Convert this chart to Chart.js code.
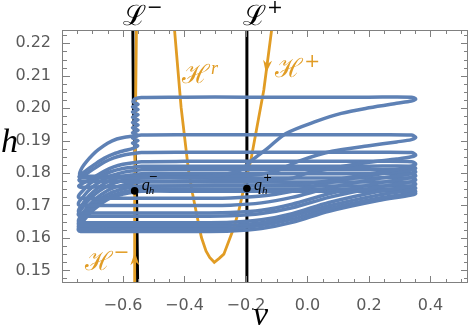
<!DOCTYPE html>
<html>
<head>
<meta charset="utf-8">
<script src="https://cdn.jsdelivr.net/npm/chart.js@4.4.0/dist/chart.umd.min.js"></script>
<style>
  body { margin: 0; background: #fff; }
  canvas { display: block; }
</style>
</head>
<body>
<canvas id="phaseChart" width="472" height="327"></canvas>
<script>
// tick labels
const xTickVals = [-0.6, -0.4, -0.2, 0.0, 0.2, 0.4];
const yTickVals = [0.15, 0.16, 0.17, 0.18, 0.19, 0.20, 0.21, 0.22];

// blue trajectory as [v, h] pairs, loop by loop
const loop1 = [[-0.35, 0.1786], [-0.28, 0.1794], [-0.22, 0.1808], [-0.18, 0.1840], [-0.13, 0.1876], [-0.07, 0.1922], [0.03, 0.1960], [0.11, 0.1984], [0.20, 0.2001], [0.29, 0.2015], [0.338, 0.2022], [0.352, 0.2028], [0.338, 0.2034], [0.20, 0.2034], [0.0, 0.2034], [-0.2, 0.2034], [-0.4, 0.2034], [-0.54, 0.2033], [-0.562, 0.2028],
  [-0.567, 0.2020], [-0.551, 0.2012], [-0.569, 0.2004], [-0.551, 0.1996], [-0.569, 0.1988], [-0.551, 0.1980], [-0.569, 0.1972], [-0.551, 0.1964], [-0.569, 0.1956], [-0.551, 0.1948], [-0.569, 0.1940], [-0.551, 0.1932], [-0.569, 0.1924], [-0.551, 0.1916], [-0.569, 0.1908], [-0.551, 0.1900], [-0.569, 0.1892], [-0.552, 0.1884], [-0.567, 0.1876],
  [-0.60, 0.1868], [-0.63, 0.1859], [-0.66, 0.1846], [-0.69, 0.1828], [-0.715, 0.1811], [-0.735, 0.1797], [-0.743, 0.1789], [-0.738, 0.1785], [-0.70, 0.1785], [-0.60, 0.1785], [-0.45, 0.1786], [-0.35, 0.1786]];
const loop2 = [[-0.30, 0.1791], [-0.20, 0.1792], [-0.15, 0.1796], [-0.10, 0.1807], [-0.03, 0.1836], [0.08, 0.1867], [0.20, 0.1884], [0.29, 0.1896], [0.338, 0.1903], [0.352, 0.1910], [0.338, 0.1917], [0.2, 0.1918], [0.0, 0.1918], [-0.2, 0.1918], [-0.4, 0.1918], [-0.54, 0.1917], [-0.566, 0.1914], [-0.59, 0.1911], [-0.62, 0.1905], [-0.65, 0.1892], [-0.68, 0.1872], [-0.70, 0.1855], [-0.72, 0.1834], [-0.733, 0.1817], [-0.740, 0.1802], [-0.741, 0.1794], [-0.733, 0.1790], [-0.70, 0.1790], [-0.60, 0.1790], [-0.45, 0.1791], [-0.30, 0.1791]];
const loop3 = [[-0.30, 0.1776], [-0.15, 0.1777], [-0.05, 0.1784], [0.0, 0.1800], [0.08, 0.1815], [0.20, 0.1833], [0.29, 0.1843], [0.338, 0.1850], [0.352, 0.1856], [0.338, 0.1863], [0.2, 0.1864], [0.0, 0.1864], [-0.2, 0.1864], [-0.4, 0.1864], [-0.54, 0.1863], [-0.566, 0.1860], [-0.60, 0.1855], [-0.63, 0.1847], [-0.66, 0.1834], [-0.69, 0.1816], [-0.715, 0.1800], [-0.735, 0.1787], [-0.743, 0.1779], [-0.738, 0.1774], [-0.70, 0.1774], [-0.60, 0.1775], [-0.45, 0.1775], [-0.30, 0.1776]];
const loop4 = [[-0.30, 0.1762], [-0.10, 0.1763], [0.0, 0.1768], [0.08, 0.1778], [0.20, 0.1797], [0.29, 0.1811], [0.338, 0.1821], [0.352, 0.1828], [0.338, 0.1835], [0.2, 0.1836], [0.0, 0.1836], [-0.2, 0.1836], [-0.4, 0.1836], [-0.54, 0.1835], [-0.566, 0.1832], [-0.60, 0.1827], [-0.63, 0.1819], [-0.66, 0.1806], [-0.69, 0.1789], [-0.715, 0.1776], [-0.735, 0.1766], [-0.744, 0.1760], [-0.738, 0.1756], [-0.70, 0.1757], [-0.60, 0.1758], [-0.45, 0.1760], [-0.30, 0.1762]];
const loop5 = [[-0.35, 0.1722], [-0.25, 0.1723], [-0.15, 0.1729], [-0.05, 0.1744], [0.07, 0.1770], [0.23, 0.1796], [0.338, 0.1809], [0.352, 0.1815], [0.338, 0.1821], [0.2, 0.1821], [0.0, 0.1821], [-0.2, 0.1821], [-0.4, 0.1821], [-0.54, 0.1821], [-0.566, 0.1818], [-0.60, 0.1814], [-0.64, 0.1804], [-0.68, 0.1785], [-0.71, 0.1766], [-0.73, 0.1746], [-0.743, 0.1732], [-0.745, 0.1725], [-0.738, 0.1722], [-0.65, 0.1722], [-0.5, 0.1722], [-0.35, 0.1722]];
const loop6 = [[-0.35, 0.1700], [-0.25, 0.1701], [-0.15, 0.1708], [-0.05, 0.1725], [0.07, 0.1754], [0.23, 0.1783], [0.338, 0.1798], [0.352, 0.1804], [0.338, 0.1810], [0.2, 0.1810], [0.0, 0.1810], [-0.2, 0.1810], [-0.4, 0.1810], [-0.54, 0.1810], [-0.566, 0.1807], [-0.60, 0.1802], [-0.64, 0.1791], [-0.68, 0.1770], [-0.71, 0.1748], [-0.73, 0.1726], [-0.743, 0.1711], [-0.745, 0.1703], [-0.738, 0.1700], [-0.65, 0.1700], [-0.5, 0.1700], [-0.35, 0.1700]];
const loop7 = [[-0.35, 0.1677], [-0.25, 0.1678], [-0.15, 0.1685], [-0.05, 0.1704], [0.07, 0.1736], [0.23, 0.1769], [0.338, 0.1786], [0.352, 0.1792], [0.338, 0.1798], [0.2, 0.1798], [0.0, 0.1798], [-0.2, 0.1798], [-0.4, 0.1798], [-0.54, 0.1798], [-0.566, 0.1795], [-0.60, 0.1790], [-0.64, 0.1778], [-0.68, 0.1755], [-0.71, 0.1730], [-0.73, 0.1706], [-0.743, 0.1689], [-0.745, 0.1681], [-0.738, 0.1677], [-0.65, 0.1677], [-0.5, 0.1677], [-0.35, 0.1677]];
const loop8 = [[-0.35, 0.1667], [-0.25, 0.1668], [-0.15, 0.1675], [-0.05, 0.1693], [0.07, 0.1725], [0.23, 0.1757], [0.338, 0.1773], [0.352, 0.1779], [0.338, 0.1785], [0.2, 0.1785], [0.0, 0.1785], [-0.2, 0.1785], [-0.4, 0.1785], [-0.54, 0.1785], [-0.566, 0.1782], [-0.60, 0.1777], [-0.64, 0.1765], [-0.68, 0.1743], [-0.71, 0.1718], [-0.73, 0.1695], [-0.743, 0.1679], [-0.745, 0.1671], [-0.738, 0.1667], [-0.65, 0.1667], [-0.5, 0.1667], [-0.35, 0.1667]];
const loop9 = [[-0.35, 0.1647], [-0.25, 0.1648], [-0.15, 0.1656], [-0.05, 0.1675], [0.07, 0.1709], [0.23, 0.1743], [0.338, 0.1760], [0.352, 0.1766], [0.338, 0.1772], [0.2, 0.1772], [0.0, 0.1772], [-0.2, 0.1772], [-0.4, 0.1772], [-0.54, 0.1772], [-0.566, 0.1769], [-0.60, 0.1763], [-0.64, 0.1751], [-0.68, 0.1727], [-0.71, 0.1702], [-0.73, 0.1677], [-0.743, 0.1659], [-0.745, 0.1651], [-0.738, 0.1647], [-0.65, 0.1647], [-0.5, 0.1647], [-0.35, 0.1647]];
const loop10 = [[-0.35, 0.1638], [-0.25, 0.1639], [-0.15, 0.1647], [-0.05, 0.1666], [0.07, 0.1699], [0.23, 0.1732], [0.338, 0.1748], [0.352, 0.1754], [0.338, 0.1760], [0.2, 0.1760], [0.0, 0.1760], [-0.2, 0.1760], [-0.4, 0.1760], [-0.54, 0.1760], [-0.566, 0.1757], [-0.60, 0.1751], [-0.64, 0.1739], [-0.68, 0.1716], [-0.71, 0.1692], [-0.73, 0.1667], [-0.743, 0.1650], [-0.745, 0.1642], [-0.738, 0.1638], [-0.65, 0.1638], [-0.5, 0.1638], [-0.35, 0.1638]];
const loop11 = [[-0.35, 0.1629], [-0.25, 0.1630], [-0.15, 0.1638], [-0.05, 0.1657], [0.07, 0.1690], [0.23, 0.1722], [0.338, 0.1738], [0.352, 0.1744], [0.338, 0.1750], [0.2, 0.1750], [0.0, 0.1750], [-0.2, 0.1750], [-0.4, 0.1750], [-0.54, 0.1750], [-0.566, 0.1747], [-0.60, 0.1741], [-0.64, 0.1729], [-0.68, 0.1706], [-0.71, 0.1682], [-0.73, 0.1658], [-0.743, 0.1641], [-0.745, 0.1633], [-0.738, 0.1629], [-0.65, 0.1629], [-0.5, 0.1629], [-0.35, 0.1629]];
const loop12 = [[-0.35, 0.1620], [-0.25, 0.1621], [-0.15, 0.1629], [-0.05, 0.1648], [0.07, 0.1682], [0.23, 0.1715], [0.338, 0.1732], [0.352, 0.1738], [0.338, 0.1744], [0.2, 0.1744], [0.0, 0.1744], [-0.2, 0.1744], [-0.4, 0.1744], [-0.54, 0.1744], [-0.566, 0.1741], [-0.60, 0.1735], [-0.64, 0.1723], [-0.68, 0.1699], [-0.71, 0.1674], [-0.73, 0.1650], [-0.743, 0.1633], [-0.745, 0.1624], [-0.738, 0.1620], [-0.65, 0.1620], [-0.5, 0.1620], [-0.35, 0.1620]];
const blueLoops = [loop1, loop2, loop3, loop4, loop5, loop6, loop7, loop8, loop9, loop10, loop11, loop12];

// orange curves: H^r running down into H^+, and H^- along L^-
const hCurve = [[-0.434, 0.2260], [-0.411, 0.2003], [-0.387, 0.1809], [-0.374, 0.1738], [-0.361, 0.1676], [-0.345, 0.1602], [-0.330, 0.1560], [-0.318, 0.1540], [-0.303, 0.1525], [-0.287, 0.1537], [-0.272, 0.1550], [-0.256, 0.1590], [-0.240, 0.1630], [-0.223, 0.1685], [-0.201, 0.1778], [-0.184, 0.1840], [-0.142, 0.2056], [-0.114, 0.2260]];
const hMinus = [[-0.561, 0.1440], [-0.562, 0.1745], [-0.556, 0.2260]];

// black lines L^- and L^+
const lMinus = [[-0.568, 0.2260], [-0.566, 0.2000], [-0.556, 0.1750], [-0.552, 0.1440]];
const lPlus = [[-0.197, 0.2260], [-0.197, 0.1440]];

// the points q_h^- and q_h^+
const qPoints = [[-0.562, 0.1745], [-0.197, 0.1752]];

const BLUE = 'rgb(94,129,181)';
const ORANGE = 'rgb(225,156,36)';
const FRAME = '#808080';
const LABEL = '#5a5a5a';

function toXY(arr) {
    return arr.map(p => ({ x: p[0], y: p[1] }));
}

function fmtX(v) {
    return (v < 0 ? '\u2212' : '') + Math.abs(v).toFixed(1);
}

function drawArrow(ctx, tip, from) {
    const ang = Math.atan2(tip[1] - from[1], tip[0] - from[0]);
    ctx.save();
    ctx.translate(tip[0], tip[1]);
    ctx.rotate(ang);
    ctx.beginPath();
    ctx.moveTo(0, 0);
    ctx.lineTo(-13, -4.5);
    ctx.lineTo(-9, 0);
    ctx.lineTo(-13, 4.5);
    ctx.closePath();
    ctx.fill();
    ctx.restore();
}

// a letter with a superscript right after it
function supText(ctx, base, sup, x, y, baseFont, supFont, rise) {
    ctx.font = baseFont;
    ctx.fillText(base, x, y);
    const w = ctx.measureText(base).width;
    ctx.font = supFont;
    ctx.fillText(sup, x + w + 1, y - rise);
}

const decorations = {
    id: 'decorations',
    afterDatasetsDraw(chart) {
        const { ctx, chartArea: a, scales } = chart;
        const sx = scales.x, sy = scales.y;
        const px = v => sx.getPixelForValue(v);
        const py = h => sy.getPixelForValue(h);
        ctx.save();

        // frame and inward ticks
        ctx.strokeStyle = FRAME;
        ctx.lineWidth = 1;
        ctx.strokeRect(a.left - 0.5, a.top + 0.5, a.right - a.left, a.bottom - a.top - 1);
        ctx.beginPath();
        for (let i = -16; i <= 10; i++) {
            const v = i * 0.05;
            if (v < sx.min || v > sx.max) continue;
            const len = (i % 4 === 0) ? 7 : 4;
            const x = Math.round(px(v)) + 0.5;
            ctx.moveTo(x, a.bottom); ctx.lineTo(x, a.bottom - len);
            ctx.moveTo(x, a.top); ctx.lineTo(x, a.top + len);
        }
        for (let i = 0; i <= 40; i++) {
            const h = 0.145 + i * 0.0025;
            if (h < sy.min || h > sy.max) continue;
            const len = (i % 4 === 2) ? 7 : 4;
            const y = Math.round(py(h)) + 0.5;
            ctx.moveTo(a.left, y); ctx.lineTo(a.left + len, y);
            ctx.moveTo(a.right, y); ctx.lineTo(a.right - len, y);
        }
        ctx.stroke();

        // arrowheads on the orange curves
        ctx.fillStyle = ORANGE;
        drawArrow(ctx, [px(-0.135), py(0.2108)], [px(-0.117), py(0.2241)]);
        drawArrow(ctx, [px(-0.5615), py(0.1556)], [px(-0.561), py(0.1461)]);

        // curve labels
        ctx.textBaseline = 'alphabetic';
        ctx.textAlign = 'left';
        ctx.fillStyle = '#000';
        supText(ctx, '\u2112', '\u2212', px(-0.565) - 11, a.top - 5, '28px "DejaVu Serif"', '19px "DejaVu Serif"', 12);
        supText(ctx, '\u2112', '+', px(-0.197) - 4, a.top - 5, '28px "DejaVu Serif"', '19px "DejaVu Serif"', 12);

        ctx.fillStyle = ORANGE;
        supText(ctx, '\u210B', 'r', px(-0.408), py(0.2077), '26px "DejaVu Serif"', 'italic 18px "Liberation Serif"', 9);
        supText(ctx, '\u210B', '+', px(-0.105), py(0.2096), '26px "DejaVu Serif"', '19px "DejaVu Serif"', 10);
        supText(ctx, '\u210B', '\u2212', px(-0.725), py(0.1500), '26px "DejaVu Serif"', '19px "DejaVu Serif"', 12);

        // q_h labels
        ctx.fillStyle = '#000';
        ctx.font = 'italic 16px "Liberation Serif"';
        ctx.fillText('q', px(-0.562) + 7, py(0.1745) - 1);
        ctx.fillText('q', px(-0.197) + 7, py(0.1752) + 1);
        ctx.font = 'italic 11px "Liberation Serif"';
        ctx.fillText('h', px(-0.562) + 14, py(0.1745) + 3);
        ctx.fillText('h', px(-0.197) + 15, py(0.1752) + 5);
        ctx.font = '11px "DejaVu Sans"';
        ctx.fillText('\u2212', px(-0.562) + 14, py(0.1745) - 11);
        ctx.fillText('+', px(-0.197) + 16, py(0.1752) - 8);

        // axis titles
        ctx.font = 'italic 34px "Liberation Serif"';
        ctx.fillText('h', 1, 152);
        ctx.textAlign = 'center';
        ctx.fillText('v', (a.left + a.right) / 2 - 5, 325);
        ctx.restore();
    }
};

const datasets = [];
datasets.push({
    data: toXY(qPoints), showLine: false, pointRadius: 3.8, pointBorderWidth: 0,
    pointBackgroundColor: '#000', order: 0
});
blueLoops.forEach(loop => {
    datasets.push({
        data: toXY(loop), showLine: true, borderColor: BLUE, borderWidth: 3.5,
        pointRadius: 0, tension: 0.3, borderJoinStyle: 'round', borderCapStyle: 'round', order: 1
    });
});
[hCurve, hMinus].forEach(c => {
    datasets.push({
        data: toXY(c), showLine: true, borderColor: ORANGE, borderWidth: 2.8,
        pointRadius: 0, tension: 0, order: 2
    });
});
[lMinus, lPlus].forEach(c => {
    datasets.push({
        data: toXY(c), showLine: true, borderColor: '#000', borderWidth: 3,
        pointRadius: 0, tension: 0, order: 3
    });
});

new Chart(document.getElementById('phaseChart'), {
    type: 'scatter',
    data: { datasets: datasets },
    options: {
        responsive: false,
        animation: false,
        devicePixelRatio: 1,
        layout: { padding: { left: 0, right: 1, top: 30, bottom: 0 } },
        plugins: { legend: { display: false }, tooltip: { enabled: false } },
        scales: {
            x: {
                type: 'linear', min: -0.795, max: 0.522,
                grid: { display: false }, border: { display: false },
                afterBuildTicks: s => { s.ticks = xTickVals.map(v => ({ value: v })); },
                afterFit: s => { s.height = 44; },
                ticks: {
                    padding: 5, color: LABEL, autoSkip: false, maxRotation: 0,
                    font: { family: 'DejaVu Sans', size: 16 },
                    callback: v => fmtX(v)
                }
            },
            y: {
                type: 'linear', min: 0.1461, max: 0.2241,
                grid: { display: false }, border: { display: false },
                afterBuildTicks: s => { s.ticks = yTickVals.map(v => ({ value: v })); },
                afterFit: s => { s.width = 63; },
                ticks: {
                    padding: 4, color: LABEL, autoSkip: false,
                    font: { family: 'DejaVu Sans', size: 16 },
                    callback: v => v.toFixed(2)
                }
            }
        }
    },
    plugins: [decorations]
});
</script>
</body>
</html>
